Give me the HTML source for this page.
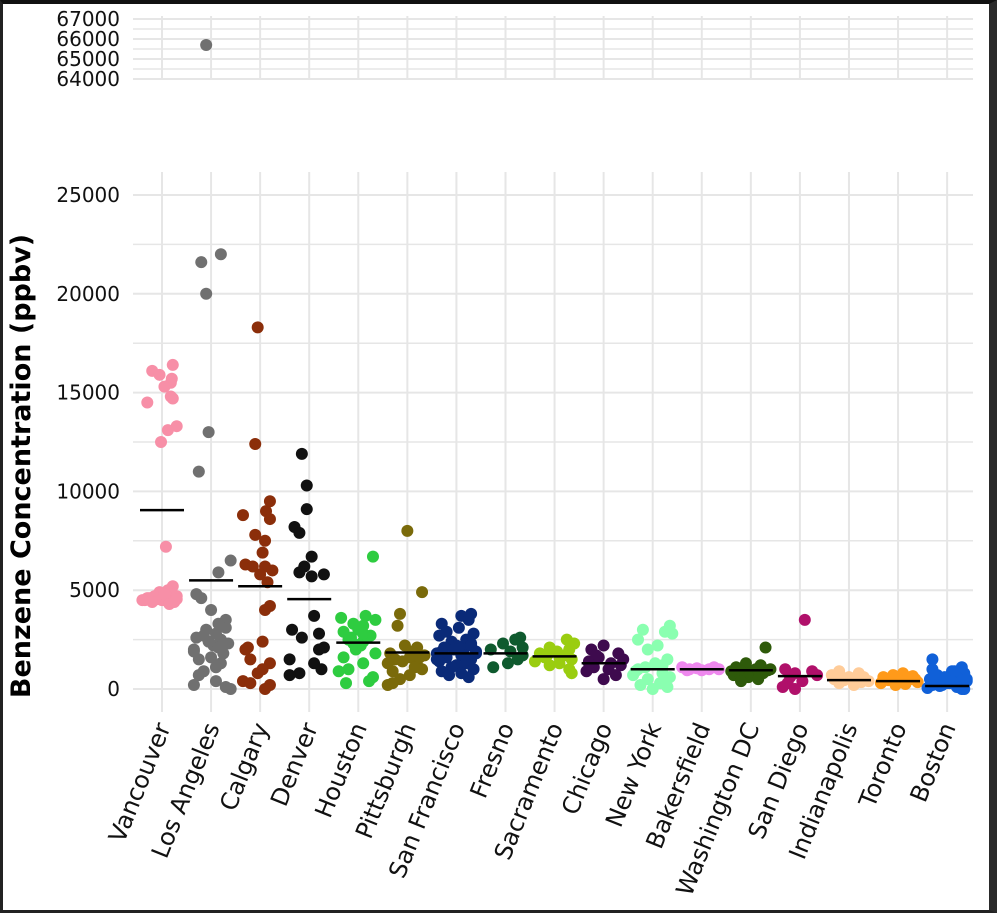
<!DOCTYPE html>
<html><head><meta charset="utf-8"><style>
html,body{margin:0;padding:0;background:#fff}
#frame{position:absolute;left:0;top:0;width:997px;height:913px;box-sizing:border-box;border-top:4px solid #111;border-left:3px solid #222;border-right:8px solid #2a2a2a;border-bottom:3px solid #222}
svg{position:absolute;left:0;top:0}
text{font-family:"DejaVu Sans","Liberation Sans",sans-serif}
</style></head><body>
<div id="frame"></div>
<svg id="c" width="997" height="913"></svg>
<script>
const cities=["Vancouver","Los Angeles","Calgary","Denver","Houston","Pittsburgh","San Francisco","Fresno","Sacramento","Chicago","New York","Bakersfield","Washington DC","San Diego","Indianapolis","Toronto","Boston"];
const colors=["#f78fa7","#707070","#8b2e0a","#111111","#2ecc40","#7a6a0a","#0a2a78","#0f5a2e","#9acd10","#3e0a4e","#8affb0","#ee88ee","#2e5a0a","#b0106a","#ffcc99","#ff9a1a","#1060d8"];
const medians=[9050,5500,5200,4550,2350,1850,1800,1800,1650,1300,1000,1000,950,650,450,400,150];
const values=[
[16100,15900,16400,15500,15700,15300,14700,14800,14500,13300,13100,12500,7200,5200,5000,4900,4800,4700,4650,4600,4550,4500,4500,4450,4400,4600,4700,4800,4300,4400,4500,4550],
[65700,21600,22000,20000,13000,11000,6500,5900,4800,4600,4000,3500,3100,3000,2800,2600,2500,2400,2300,2200,2000,1900,1800,1500,1300,1100,900,700,400,200,100,0,2700,3300,2100,1600],
[18300,12400,9500,9000,8800,8600,7800,7500,6900,6300,6200,6200,6000,5800,5400,4200,4000,2400,2100,1500,1300,800,400,300,200,0,1000,2000],
[11900,10300,9100,8200,7900,6700,6200,5900,5800,5700,3700,3000,2600,2100,1500,1300,1000,800,700,2000,2800],
[6700,3700,3600,3500,3300,3200,3000,2900,2700,2500,2400,2300,2200,2000,1800,1600,1300,1000,900,600,400,300,2800,2600],
[8000,4900,3800,3200,2200,2100,1900,1800,1700,1600,1500,1400,1300,1200,1000,900,700,500,300,200,1100,1600],
[3800,3700,3500,3300,3100,2900,2800,2700,2500,2400,2300,2200,2100,2000,1900,1800,1700,1600,1500,1400,1300,1200,1100,1000,900,800,700,600,1800,2000,2200,1500,1700,1900,2100],
[2600,2500,2300,2100,2000,1900,1700,1500,1300,1100],
[2500,2300,2100,2000,1900,1800,1700,1600,1500,1400,1300,1200,1000,800,1700,1600],
[2200,2000,1800,1600,1500,1400,1300,1200,1100,1000,900,700,500,1700,1300],
[3200,3000,2900,2800,2500,2200,2000,1500,1300,1200,1100,900,800,600,500,300,200,100,0,700,1000],
[1100,1000,1050,950,1000,1100,1000,950],
[2100,1300,1200,1100,1000,950,900,850,800,700,600,500,400,1000,900],
[3500,1000,900,800,700,600,400,300,100,0],
[900,800,700,600,500,450,400,350,300,200,600,500],
[800,700,650,600,550,500,450,400,350,300,250,200,600,500],
[1500,1100,1000,900,800,700,600,500,400,300,200,100,50,0,900,700,500,300,150,0,600,400,200,100]
];
const jitter=[
[-0.2,-0.05,0.22,0.18,0.2,0.05,0.22,0.18,-0.3,0.3,0.12,-0.02,0.08,0.22,0.12,-0.05,0.2,-0.15,0.15,-0.3,-0.1,-0.35,0,0.1,0.25,-0.25,0.3,0.05,0.15,-0.2,-0.4,0.3],
[-0.1,-0.2,0.2,-0.1,-0.05,-0.25,0.4,0.15,-0.3,-0.2,0,0.3,0.3,-0.1,0.1,-0.3,0.2,-0.05,0.35,0.05,-0.35,-0.35,0.25,-0.25,0.2,0.1,-0.15,-0.25,0.1,-0.35,0.3,0.4,-0.15,0.15,0.15,0],
[-0.05,-0.1,0.2,0.12,-0.35,0.2,-0.1,0.1,0.05,-0.3,-0.15,0.1,0.25,0,0.15,0.2,0.1,0.05,-0.25,-0.2,0.2,-0.05,-0.35,-0.2,0.2,0.1,0.05,-0.3],
[-0.15,-0.05,-0.05,-0.3,-0.2,0.05,-0.1,-0.2,0.3,0.05,0.1,-0.35,-0.15,0.3,-0.4,0.1,0.25,-0.2,-0.4,0.2,0.2],
[0.3,0.15,-0.35,0.35,-0.1,0.1,0,-0.3,0.25,-0.2,0.1,-0.1,0.05,-0.05,0.35,-0.3,0.1,-0.2,-0.4,0.3,0.22,-0.25,0.1,-0.15],
[0.0,0.3,-0.15,-0.2,-0.05,0.2,0.1,-0.35,0.35,0.05,-0.25,-0.1,-0.4,0.2,0.3,-0.3,0.05,-0.15,-0.3,-0.4,0.15,0.25],
[0.3,0.1,0.25,-0.3,0.05,-0.2,0.35,-0.35,0.2,-0.1,0.3,0,-0.25,0.15,0.4,-0.4,0.1,-0.2,0.3,-0.35,0.2,0,-0.1,0.35,-0.3,0.1,-0.15,0.25,0.4,-0.05,0.3,-0.4,0.15,-0.3,0.05],
[0.3,0.2,-0.05,0.35,-0.3,0.1,0.35,0.25,0.05,-0.25],
[0.25,0.4,-0.1,0.3,0.05,-0.3,0.2,-0.2,0.35,-0.4,0.1,-0.1,0.3,0.35,-0.15,0.1],
[0.0,-0.25,0.3,-0.1,0.4,-0.3,0.15,0.35,-0.2,0.1,-0.35,0.25,0,-0.15,-0.3,0.3,-0.05,0.2,0.4,-0.1],
[0.35,-0.2,0.25,0.4,-0.3,0.1,-0.1,0.3,0.05,0.2,-0.15,-0.35,0.2,0.35,-0.1,0.15,-0.25,0.3,0,-0.4,-0.3],
[-0.4,-0.25,-0.1,0,0.15,0.25,0.35,-0.3],
[0.3,-0.1,0.2,-0.3,0.1,0.35,-0.2,0,0.25,-0.35,-0.05,0.15,-0.2,0.4,-0.4],
[0.1,-0.3,0.25,-0.1,0.35,-0.2,0.05,-0.25,-0.35,-0.1],
[-0.2,0.2,-0.35,0.3,0.05,-0.1,0.4,0.25,-0.2,0.1,0,-0.3,0.35,-0.05],
[0.1,-0.1,0.3,-0.3,0.2,0.35,-0.2,0.05,0.4,-0.35,0.15,-0.05,0.25,0.3,-0.25,-0.4,0.4],
[-0.3,0.3,-0.3,0.1,0.35,-0.2,0.2,-0.35,0.4,0,-0.1,0.25,-0.4,0.3,0.15,-0.25,0.4,0.05,-0.15,0.35,-0.05,0.1,-0.3,0.2]
];
const lowTicks=[0,5000,10000,15000,20000,25000];
const highTicks=[64000,65000,66000,67000];
const NS="http://www.w3.org/2000/svg";
const svg=document.getElementById('c');
function el(t,a,p){const e=document.createElementNS(NS,t);for(const k in a)e.setAttribute(k,a[k]);(p||svg).appendChild(e);return e;}
const X0=133,X1=973;
const xs=i=>162+i*49.07;
const yLow=v=>689-v*(494/25000);
const yHigh=v=>79-(v-64000)*20/1000;
const gridG=el('g',{});


for(let v=0;v<=25000;v+=2500){el('line',{x1:X0,x2:X1,y1:yLow(v),y2:yLow(v),stroke:'#e6e6e6','stroke-width':v%5000===0?2:1.5},gridG);}
for(let v=64000;v<=67000;v+=500){el('line',{x1:X0,x2:X1,y1:yHigh(v),y2:yHigh(v),stroke:'#e6e6e6','stroke-width':v%1000===0?2:1.5},gridG);}
cities.forEach((c,i)=>{
  el('line',{x1:xs(i),x2:xs(i),y1:172,y2:712,stroke:'#e6e6e6','stroke-width':2},gridG);
  el('line',{x1:xs(i),x2:xs(i),y1:16,y2:80,stroke:'#e6e6e6','stroke-width':2},gridG);
});
lowTicks.forEach(v=>{
  const t=el('text',{x:120,y:yLow(v)+7,'text-anchor':'end','font-size':20,fill:'#111'});
  t.textContent=v;
  
  
});
highTicks.forEach(v=>{
  const t=el('text',{x:120,y:yHigh(v)+7,'text-anchor':'end','font-size':20,fill:'#111'});
  t.textContent=v;
  
  
});
const yt=el('text',{x:0,y:0,transform:'translate(30,466) rotate(-90)','text-anchor':'middle','font-size':27,'font-weight':'bold',fill:'#000'});
yt.textContent='Benzene Concentration (ppbv)';


cities.forEach((c,i)=>{
  const g=el('g',{});
  
  
  values[i].forEach((v,k)=>{
    const cx=xs(i)+(jitter[i][k]||0)*49;
    const cy=v>30000?yHigh(v):yLow(v);
    const p=el('circle',{cx:cx,cy:cy,r:6,fill:colors[i]},g);
    
    
  });
  const m=el('line',{x1:xs(i)-22,x2:xs(i)+22,y1:yLow(medians[i]),y2:yLow(medians[i]),stroke:'#000','stroke-width':2.5},g);
  
  
  const t=el('text',{x:0,y:0,transform:`translate(${xs(i)+9},727) rotate(-68)`,'text-anchor':'end','font-size':24,fill:'#111'});
  t.textContent=c;
  
  
});
</script>
</body></html>
